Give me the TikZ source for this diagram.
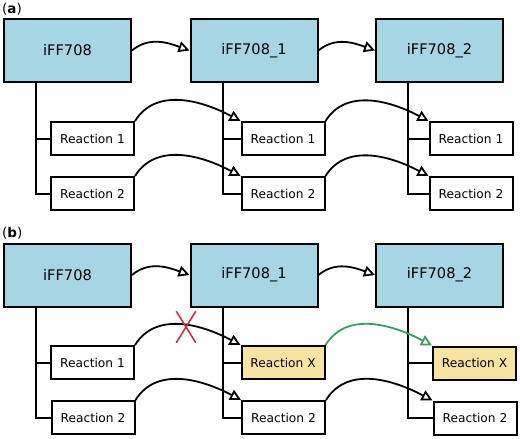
\documentclass[tikz,border=0pt]{standalone}
\usepackage{fontspec}
\setmainfont{DejaVu Sans}
\usetikzlibrary{arrows.meta,shapes.misc}
\definecolor{modelblue}{HTML}{A6D5E4}
\definecolor{rxnyellow}{HTML}{F9E3A1}
\definecolor{gapgreen}{HTML}{3A9E64}
\definecolor{cutred}{HTML}{D7263A}

\tikzset{
	model/.style={draw,line width=2pt,fill=modelblue,minimum width=127pt,minimum height=63pt,inner sep=0pt,font=\fontsize{14.6}{16}\selectfont},
	rxn/.style={draw,line width=2pt,fill=white,minimum width=83pt,minimum height=33pt,inner sep=0pt,font=\fontsize{12.2}{14}\selectfont},
	rxnx/.style={rxn,fill=rxnyellow},
	link/.style={-{Triangle[open,length=11pt,width=11pt]},line width=1.8pt},
	tree/.style={line width=2pt},
	panel/.style={anchor=north west,inner sep=0pt,font=\fontsize{13.5}{15}\selectfont}
}

\begin{document}
\begin{tikzpicture}[x=1pt,y=1pt]
					\useasboundingbox (0,0) rectangle (520,-439);

					% (a) copying the model
					\node[panel] (lbla) at (2,-3) {(\textbf{a})};
					\node[model] (a0) at (67.5,-50.5) {iFF708};
					\node[model] (a1) at (254,-50.5) {iFF708\_1};
					\node[model] (a2) at (439.5,-50.5) {iFF708\_2};

					\node[rxn] (a01) at (92.5,-138.5) {Reaction 1};
					\node[rxn] (a02) at (92.5,-193.5) {Reaction 2};
					\node[rxn] (a11) at (283,-138.5) {Reaction 1};
					\node[rxn] (a12) at (283,-193.5) {Reaction 2};
					\node[rxn] (a21) at (471,-138.5) {Reaction 1};
					\node[rxn] (a22) at (471,-193.5) {Reaction 2};

					\draw[tree] ([xshift=32.5pt]a0.south west) |- (a01.west);
					\draw[tree] ([xshift=32.5pt]a0.south west) |- (a02.west);
					\draw[tree] ([xshift=33pt]a1.south west) |- (a11.west);
					\draw[tree] ([xshift=33pt]a1.south west) |- (a12.west);
					\draw[tree] ([xshift=33pt]a2.south west) |- (a21.west);
					\draw[tree] ([xshift=33pt]a2.south west) |- (a22.west);

					\draw[link] (a0.east) to[out=40,in=160] (a1.west);
					\draw[link] (a1.east) to[out=40,in=160] (a2.west);
					\draw[link] (a01.north east) to[out=58,in=152] (a11.north west);
					\draw[link] (a02.north east) to[out=58,in=152] (a12.north west);
					\draw[link] (a11.north east) to[out=58,in=152] (a21.north west);
					\draw[link] (a12.north east) to[out=58,in=152] (a22.north west);

					% (b) a reaction replaced
					\node[panel] (lblb) at (2,-227) {(\textbf{b})};
					\node[model] (b0) at (67.5,-275) {iFF708};
					\node[model] (b1) at (254,-275) {iFF708\_1};
					\node[model] (b2) at (439.5,-275) {iFF708\_2};

					\node[rxn] (b01) at (92.5,-362.5) {Reaction 1};
					\node[rxn] (b02) at (93,-417.5) {Reaction 2};
					\node[rxnx] (b11) at (283,-362.5) {Reaction X};
					\node[rxn] (b12) at (283.5,-417.5) {Reaction 2};
					\node[rxnx] (b21) at (474.5,-363) {Reaction X};
					\node[rxn] (b22) at (475,-418) {Reaction 2};

					\draw[tree] ([xshift=32.5pt]b0.south west) |- (b01.west);
					\draw[tree] ([xshift=32.5pt]b0.south west) |- (b02.west);
					\draw[tree] ([xshift=33pt]b1.south west) |- (b11.west);
					\draw[tree] ([xshift=33pt]b1.south west) |- (b12.west);
					\draw[tree] ([xshift=33pt]b2.south west) |- (b21.west);
					\draw[tree] ([xshift=33pt]b2.south west) |- (b22.west);

					\draw[link] (b0.east) to[out=40,in=160] (b1.west);
					\draw[link] (b1.east) to[out=40,in=160] (b2.west);
					\draw[link] (b01.north east) to[out=58,in=152] (b11.north west);
					\draw[link] (b02.north east) to[out=58,in=152] (b12.north west);
					\draw[link,gapgreen] (b11.north east) to[out=58,in=152] (b21.north west);
					\draw[link] (b12.north east) to[out=58,in=152] (b22.north west);

					\node[cross out,draw=cutred,line width=1.5pt,minimum width=18pt,minimum height=30pt,inner sep=0pt] (cut) at (186,-327) {};
				\end{tikzpicture}
\end{document}
